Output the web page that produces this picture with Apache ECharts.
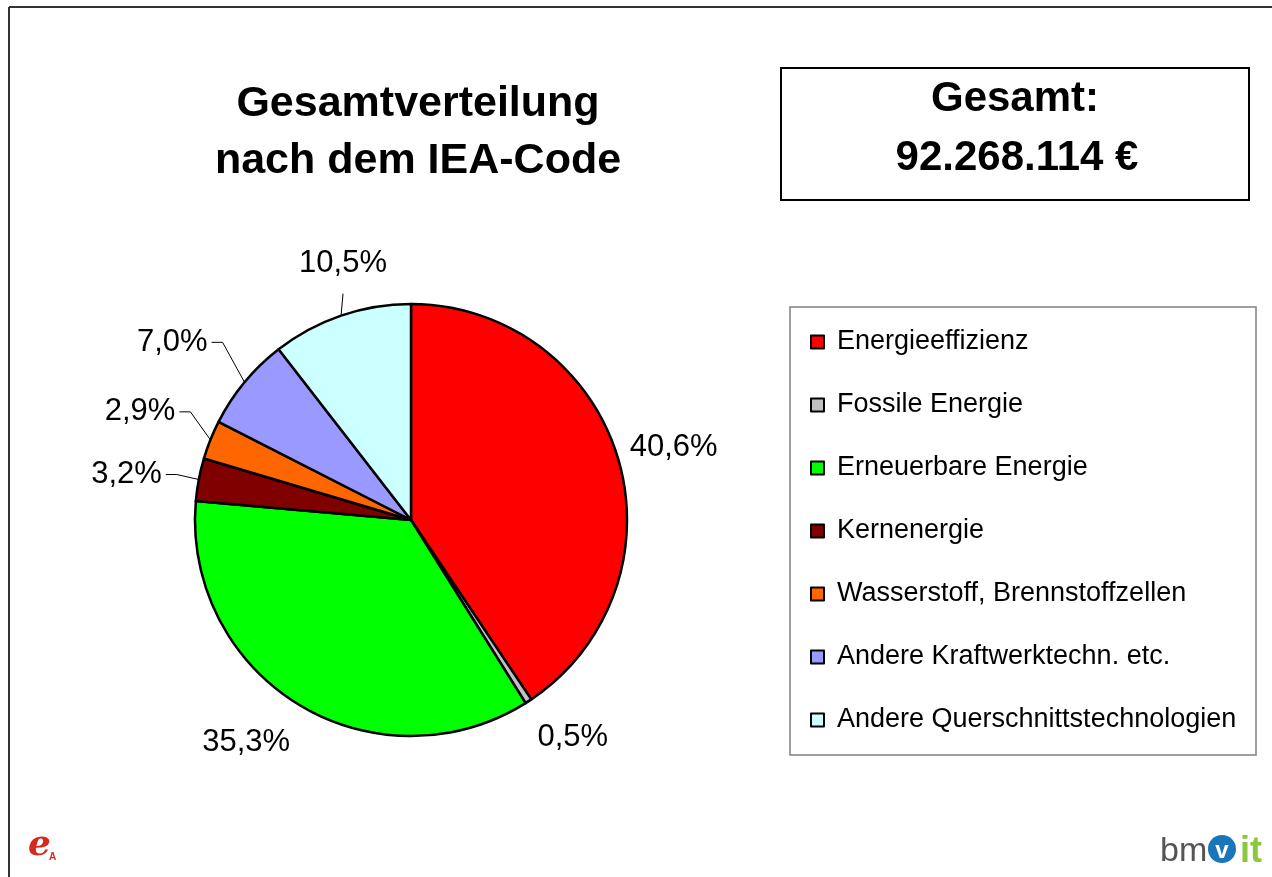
<!DOCTYPE html>
<html>
<head>
<meta charset="utf-8">
<script src="https://cdn.jsdelivr.net/npm/echarts@6/dist/echarts.min.js"></script>
<style>
  html, body { margin: 0; padding: 0; background: #fff; }
  #main { width: 1272px; height: 877px; }
</style>
</head>
<body>
<div id="main"></div>
<script>
// Anteile nach IEA-Code (in %)
var categories = ['Energieeffizienz', 'Fossile Energie', 'Erneuerbare Energie', 'Kernenergie',
  'Wasserstoff, Brennstoffzellen', 'Andere Kraftwerktechn. etc.', 'Andere Querschnittstechnologien'];
var shares = [40.6, 0.5, 35.3, 3.2, 2.9, 7.0, 10.5];
var colors = ['#FF0000', '#C0C0C0', '#00FF00', '#800000', '#FF6600', '#9999FF', '#CCFFFF'];
var totalText = '92.268.114 €';

var FONT = '"Liberation Sans", Arial, sans-serif';

// label placement relative to the slice's outer edge point: [dx, dy, align, withLine]
var labelPlace = [
  [12, -10, 'left', false],
  [9, 36, 'left', false],
  [-8, 38, 'right', false],
  [-37, -5, 'right', true],
  [-35, -28, 'right', true],
  [-37, -40, 'right', true],
  [2, -52, 'center', true]
];

var chartDom = document.getElementById('main');
var myChart = echarts.init(chartDom);

var pieData = categories.map(function (name, i) {
  return {
    name: name,
    value: shares[i],
    itemStyle: { color: colors[i] },
    labelLine: { show: labelPlace[i][3] }
  };
});

var option = {
  animation: false,
  backgroundColor: '#fff',
  title: {
    text: 'Gesamtverteilung\nnach dem IEA-Code',
    left: 413,
    top: 71,
    textAlign: 'center',
    textStyle: { fontFamily: FONT, fontSize: 43, fontWeight: 'bold', color: '#000', lineHeight: 57 }
  },
  legend: {
    orient: 'vertical',
    left: 810,
    top: 328,
    padding: 0,
    itemWidth: 13,
    itemHeight: 13,
    itemGap: 35,
    icon: 'rect',
    selectedMode: false,
    itemStyle: { borderColor: '#000', borderWidth: 2 },
    textStyle: { fontFamily: FONT, fontSize: 27, color: '#000', lineHeight: 28, padding: [0, 0, 0, 8] },
    data: categories
  },
  graphic: [
    { type: 'line', shape: { x1: 9, y1: 7, x2: 9, y2: 877 }, style: { stroke: '#333', lineWidth: 2 } },
    { type: 'line', shape: { x1: 9, y1: 7, x2: 1272, y2: 7 }, style: { stroke: '#333', lineWidth: 2 } },
    { type: 'rect', shape: { x: 781, y: 68, width: 468, height: 132 }, style: { fill: '#fff', stroke: '#000', lineWidth: 2 } },
    { type: 'text', x: 1015, y: 99, style: { text: 'Gesamt:', font: 'bold 42px ' + FONT, fill: '#000', textAlign: 'center', textVerticalAlign: 'middle' } },
    { type: 'text', x: 1017, y: 158, style: { text: totalText, font: 'bold 42px ' + FONT, fill: '#000', textAlign: 'center', textVerticalAlign: 'middle' } },
    { type: 'rect', z: -1, shape: { x: 790, y: 307, width: 466, height: 448 }, style: { fill: '#fff', stroke: '#808080', lineWidth: 1.5 } },
    // Logos (als Text nachgebildet)
    { type: 'text', x: 28, y: 846, style: { text: 'e', font: 'italic bold 36px "DejaVu Serif", serif', fill: '#d42a1e', textVerticalAlign: 'middle' } },
    { type: 'text', x: 49, y: 857, style: { text: 'A', font: 'bold 10px ' + FONT, fill: '#d42a1e', textVerticalAlign: 'middle' } },
    { type: 'text', x: 1160, y: 852, style: { text: 'bm', font: '34px ' + FONT, fill: '#555', textVerticalAlign: 'middle' } },
    { type: 'circle', shape: { cx: 1222, cy: 849, r: 14 }, style: { fill: '#1b75bb' } },
    { type: 'text', x: 1222, y: 851, style: { text: 'v', font: 'bold 24px ' + FONT, fill: '#fff', textAlign: 'center', textVerticalAlign: 'middle' } },
    { type: 'text', x: 1240, y: 852, style: { text: 'it', font: 'bold 36px ' + FONT, fill: '#8dc63f', textVerticalAlign: 'middle' } }
  ],
  series: [
    {
      type: 'pie',
      center: [411, 520],
      radius: [0, 216],
      startAngle: 90,
      clockwise: true,
      avoidLabelOverlap: false,
      itemStyle: { borderColor: '#000', borderWidth: 2.5 },
      label: {
        show: true,
        position: 'outside',
        color: '#000',
        fontFamily: FONT,
        fontSize: 31,
        formatter: function (p) { return p.value.toFixed(1).replace('.', ',') + '%'; }
      },
      labelLine: { length: 20, length2: 10, lineStyle: { color: '#000', width: 1 }, smooth: false },
      labelLayout: function (params) {
        var pl = labelPlace[params.dataIndex];
        var pts = params.labelLinePoints;
        if (!pts) return {};
        var ex = pts[0][0], ey = pts[0][1];
        var lx = ex + pl[0], ly = ey + pl[1];
        var out = { x: lx, y: ly, align: pl[2], verticalAlign: 'middle' };
        if (pl[3]) {
          if (pl[2] === 'center') {
            out.labelLinePoints = [[ex, ey], [lx, ly + 30]];
          } else {
            out.labelLinePoints = [[ex, ey], [lx + 15, ly], [lx + 4, ly]];
          }
        }
        return out;
      },
      emphasis: { disabled: true },
      data: pieData
    }
  ]
};

option && myChart.setOption(option);
</script>
</body>
</html>
